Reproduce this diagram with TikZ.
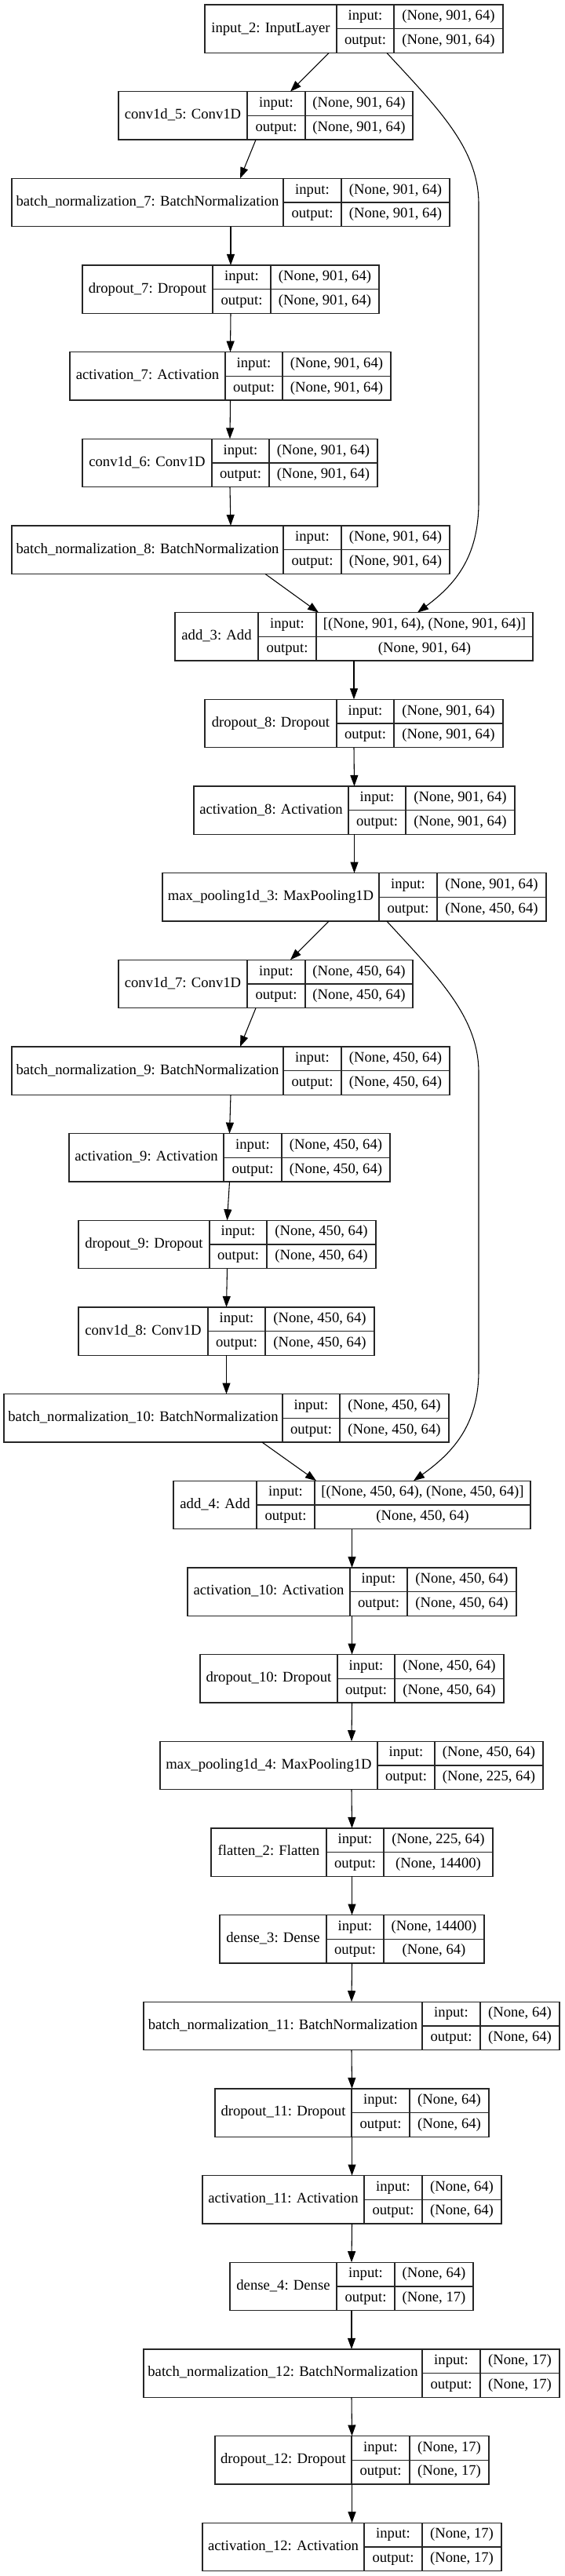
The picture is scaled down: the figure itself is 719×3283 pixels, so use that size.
\documentclass[tikz,border=0pt]{standalone}
\usepackage{fontspec}
\setmainfont{Liberation Serif}
\usetikzlibrary{calc,arrows.meta}

\tikzset{
  layerbox/.style={draw=black!85, line width=1pt, inner sep=0pt, outer sep=0pt, minimum height=46.125pt},
  cellline/.style={draw=black!85, line width=1pt},
  lbl/.style={font=\fontsize{14pt}{16pt}\selectfont, inner sep=0pt, text height=9.5pt, text depth=3pt},
  conn/.style={line width=0.8pt, -{Triangle[length=10.5pt,width=7.5pt]}}
}

% one layer: id, row, left, split 1, split 2, right, name, input shape, output shape
\newcommand{\layer}[9]{%
  \pgfmathsetmacro{\ytop}{6+110.66*#2}
  \pgfmathsetmacro{\ybot}{\ytop+61.5}
  \pgfmathsetmacro{\ymid}{\ytop+30.75}
  \node[layerbox, minimum width={(#6-#3)*0.75pt}] (#1) at ({(#3+#6)/2},\ymid) {};
  \draw[cellline] (#4,\ytop) -- (#4,\ybot) (#5,\ytop) -- (#5,\ybot) (#4,\ymid) -- (#6,\ymid);
  \node[lbl] (#1-name) at ({(#3+#4)/2},\ymid) {#7};
  \node[lbl] (#1-in) at ({(#4+#5)/2},{\ytop+15.4}) {input:};
  \node[lbl] (#1-out) at ({(#4+#5)/2},{\ybot-15.4}) {output:};
  \node[lbl] (#1-si) at ({(#5+#6)/2},{\ytop+15.4}) {#8};
  \node[lbl] (#1-so) at ({(#5+#6)/2},{\ybot-15.4}) {#9};
}

\begin{document}
\begin{tikzpicture}[x=0.75pt,y=0.75pt,yscale=-1,xscale=1]
\useasboundingbox (0,0) rectangle (719,3283);

%Shape: Layers
\layer{in2}{0}{261}{429}{502}{641}{input\_2: InputLayer}{(None, 901, 64)}{(None, 901, 64)}
\layer{conv5}{1}{151}{315}{389}{526}{conv1d\_5: Conv1D}{(None, 901, 64)}{(None, 901, 64)}
\layer{bn7}{2}{15}{361}{435}{573}{batch\_normalization\_7: BatchNormalization}{(None, 901, 64)}{(None, 901, 64)}
\layer{drop7}{3}{105}{271}{345}{483}{dropout\_7: Dropout}{(None, 901, 64)}{(None, 901, 64)}
\layer{act7}{4}{89}{287}{360}{498}{activation\_7: Activation}{(None, 901, 64)}{(None, 901, 64)}
\layer{conv6}{5}{105}{270}{343}{481}{conv1d\_6: Conv1D}{(None, 901, 64)}{(None, 901, 64)}
\layer{bn8}{6}{15}{361}{435}{573}{batch\_normalization\_8: BatchNormalization}{(None, 901, 64)}{(None, 901, 64)}
\layer{add3}{7}{223}{329}{403}{679}{add\_3: Add}{[(None, 901, 64), (None, 901, 64)]}{(None, 901, 64)}
\layer{drop8}{8}{261}{429}{502}{641}{dropout\_8: Dropout}{(None, 901, 64)}{(None, 901, 64)}
\layer{act8}{9}{247}{444}{517}{656}{activation\_8: Activation}{(None, 901, 64)}{(None, 901, 64)}
\layer{pool3}{10}{207}{483}{557}{696}{max\_pooling1d\_3: MaxPooling1D}{(None, 901, 64)}{(None, 450, 64)}
\layer{conv7}{11}{151}{315}{389}{526}{conv1d\_7: Conv1D}{(None, 450, 64)}{(None, 450, 64)}
\layer{bn9}{12}{15}{361}{435}{573}{batch\_normalization\_9: BatchNormalization}{(None, 450, 64)}{(None, 450, 64)}
\layer{act9}{13}{88}{285}{359}{497}{activation\_9: Activation}{(None, 450, 64)}{(None, 450, 64)}
\layer{drop9}{14}{100}{267}{340}{479}{dropout\_9: Dropout}{(None, 450, 64)}{(None, 450, 64)}
\layer{conv8}{15}{100}{265}{338}{477}{conv1d\_8: Conv1D}{(None, 450, 64)}{(None, 450, 64)}
\layer{bn10}{16}{5}{360}{433}{572}{batch\_normalization\_10: BatchNormalization}{(None, 450, 64)}{(None, 450, 64)}
\layer{add4}{17}{221}{327}{401}{676}{add\_4: Add}{[(None, 450, 64), (None, 450, 64)]}{(None, 450, 64)}
\layer{act10}{18}{239}{446}{519}{658}{activation\_10: Activation}{(None, 450, 64)}{(None, 450, 64)}
\layer{drop10}{19}{255}{430}{503}{642}{dropout\_10: Dropout}{(None, 450, 64)}{(None, 450, 64)}
\layer{pool4}{20}{204}{481}{554}{692}{max\_pooling1d\_4: MaxPooling1D}{(None, 450, 64)}{(None, 225, 64)}
\layer{flat2}{21}{269}{416}{489}{628}{flatten\_2: Flatten}{(None, 225, 64)}{(None, 14400)}
\layer{dense3}{22}{280}{416}{489}{617}{dense\_3: Dense}{(None, 14400)}{(None, 64)}
\layer{bn11}{23}{183}{538}{612}{713}{batch\_normalization\_11: BatchNormalization}{(None, 64)}{(None, 64)}
\layer{drop11}{24}{274}{448}{522}{623}{dropout\_11: Dropout}{(None, 64)}{(None, 64)}
\layer{act11}{25}{258}{464}{538}{639}{activation\_11: Activation}{(None, 64)}{(None, 64)}
\layer{dense4}{26}{293}{429}{503}{603}{dense\_4: Dense}{(None, 64)}{(None, 17)}
\layer{bn12}{27}{183}{538}{612}{713}{batch\_normalization\_12: BatchNormalization}{(None, 17)}{(None, 17)}
\layer{drop12}{28}{274}{448}{522}{623}{dropout\_12: Dropout}{(None, 17)}{(None, 17)}
\layer{act12}{29}{258}{464}{538}{639}{activation\_12: Activation}{(None, 17)}{(None, 17)}

%Straight Lines
\draw[conn] ($(in2.south)+(-32,0)$) -- ($(conv5.north)+(31.5,0)$);
\draw[conn] ($(conv5.south)+(-12.5,0)$) -- ($(bn7.north)+(12,0)$);
\draw[conn] (bn7.south) -- (drop7.north);
\draw[conn] (drop7.south) -- (act7.north);
\draw[conn] (act7.south) -- (conv6.north);
\draw[conn] (conv6.south) -- (bn8.north);
\draw[conn] ($(bn8.south)+(44,0)$) -- ($(add3.north)+(-45,0)$);
\draw[conn] (add3.south) -- (drop8.north);
\draw[conn] (drop8.south) -- (act8.north);
\draw[conn] (act8.south) -- (pool3.north);
\draw[conn] ($(pool3.south)+(-32.5,0)$) -- ($(conv7.north)+(31.5,0)$);
\draw[conn] ($(conv7.south)+(-12.5,0)$) -- ($(bn9.north)+(12,0)$);
\draw[conn] (bn9.south) -- (act9.north);
\draw[conn] (act9.south) -- (drop9.north);
\draw[conn] (drop9.south) -- (conv8.north);
\draw[conn] (conv8.south) -- (bn10.north);
\draw[conn] ($(bn10.south)+(45.5,0)$) -- ($(add4.north)+(-45.5,0)$);
\draw[conn] (add4.south) -- (act10.north);
\draw[conn] (act10.south) -- (drop10.north);
\draw[conn] (drop10.south) -- (pool4.north);
\draw[conn] (pool4.south) -- (flat2.north);
\draw[conn] (flat2.south) -- (dense3.north);
\draw[conn] (dense3.south) -- (bn11.north);
\draw[conn] (bn11.south) -- (drop11.north);
\draw[conn] (drop11.south) -- (act11.north);
\draw[conn] (act11.south) -- (dense4.north);
\draw[conn] (dense4.south) -- (bn12.north);
\draw[conn] (bn12.south) -- (drop12.north);
\draw[conn] (drop12.south) -- (act12.north);

%Curve Lines (skip connections)
\draw[conn] ($(in2.south)+(42,0)$) .. controls (560,140) and (610,190) .. (610,260) -- (610,640) .. controls (610,710) and (580,745) .. ($(add3.north)+(81,0)$);
\draw[conn] ($(pool3.south)+(41.5,0)$) .. controls (560,1247) and (610,1297) .. (610,1367) -- (610,1747) .. controls (610,1817) and (576,1852) .. ($(add4.north)+(78.5,0)$);

\end{tikzpicture}
\end{document}
